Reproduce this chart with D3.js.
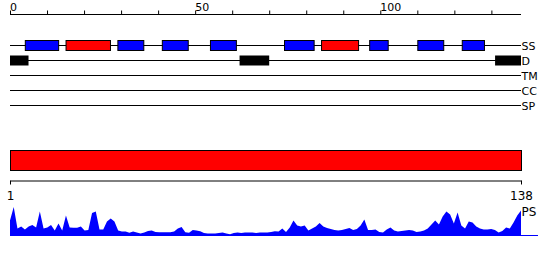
<!DOCTYPE html>
<html>
<head>
<meta charset="utf-8">
<script src="https://cdn.jsdelivr.net/npm/d3@7"></script>
<style>
body { margin: 0; background: #fff; }
svg { display: block; font-family: "DejaVu Sans", sans-serif; }
</style>
</head>
<body>
<svg class="main" width="550" height="260"></svg>
<script>
var seqLength = 138,
    tracks = ["SS", "D", "TM", "CC", "SP"],
    topTicks = [0, 10, 20, 30, 40, 50, 60, 70, 80, 90, 100, 110, 120, 130],
    topLabels = [0, 50, 100],
    bottomTicks = [1, 138];

// secondary structure: [start, end, type]
var ssSegments = [
    [4, 13, "E"], [15, 27, "H"], [29, 36, "E"], [41, 48, "E"], [54, 61, "E"],
    [74, 82, "E"], [84, 94, "H"], [97, 102, "E"], [110, 117, "E"], [122, 128, "E"]
];
var disorder = [[0, 5], [62, 70], [131, 138]];
var domains = [[1, 138]];

var psValues = [
    15, 28.6, 7, 9, 6, 9, 10.5, 8, 24, 7,
    8, 10.5, 5, 12, 5, 20, 8, 7.7, 7.7, 9,
    5, 5.5, 22.5, 24, 6, 6, 14, 17, 14, 5,
    4, 4, 2.7, 4, 3, 2, 3, 4.5, 5, 3.5,
    3.3, 3.3, 3.3, 3.3, 4, 7, 8.5, 3.3, 2.7, 5.5,
    5, 4.3, 2.5, 2, 2, 2, 2.5, 3, 2, 1.3,
    2.5, 3, 2.5, 3, 3, 3, 2.5, 3, 3, 3,
    3.5, 4.3, 4, 7, 3.5, 8, 15, 10, 9, 10,
    5, 7, 9, 12.5, 9, 7.5, 6.5, 5.5, 5, 5.5,
    6.5, 7.5, 5.5, 6.5, 10, 16, 5.5, 5.5, 6, 3.5,
    3, 6, 8, 5, 4, 4.5, 5, 5.5, 5, 3.5,
    4, 5, 7, 11, 15, 11, 19, 24, 21, 12,
    23, 10, 7, 14, 13, 9, 7, 6, 6, 6.5,
    5.5, 3, 4.5, 8, 7, 13, 20, 25
];

var canvas = { left: 10, right: 521 },
    ssColor = { E: "#0000ff", H: "#ff0000" },
    main = d3.select(".main");

var x = d3.scaleLinear().domain([0, seqLength]).range([canvas.left, canvas.right]),
    xRes = d3.scaleLinear().domain([1, seqLength]).range([canvas.left, canvas.right]),
    trackY = d3.scalePoint().domain(tracks).range([45, 105]),
    yPs = d3.scaleLinear().domain([0, 30]).range([235.5, 205.5]);

// top ruler
var topAxis = main.append("g")
    .attr("transform", "translate(0, 14.5)")
    .call(d3.axisTop(x).tickValues(topTicks).tickSize(4).tickSizeOuter(0).tickFormat(""));
topAxis.select(".domain").attr("d", "M" + canvas.left + ",0H" + canvas.right);
topAxis.selectAll(".tick text").remove();
main.selectAll(".top-label")
    .data(topLabels).enter()
    .append("text")
    .attr("x", function(d) { return x(d); })
    .attr("y", 11)
    .attr("font-size", 11)
    .text(function(d) { return d; });

// feature tracks
main.selectAll(".track")
    .data(tracks).enter()
    .append("line")
    .attr("x1", canvas.left)
    .attr("x2", canvas.right)
    .attr("y1", function(d) { return trackY(d) + 0.5; })
    .attr("y2", function(d) { return trackY(d) + 0.5; })
    .attr("stroke", "#000");
main.selectAll(".track-label")
    .data(tracks).enter()
    .append("text")
    .attr("x", canvas.right + 0.5)
    .attr("y", function(d) { return trackY(d) + 4.5; })
    .attr("font-size", 11)
    .text(function(d) { return d; });

main.selectAll(".ss")
    .data(ssSegments).enter()
    .append("rect")
    .attr("x", function(d) { return x(d[0]) + 0.5; })
    .attr("y", trackY("SS") - 4.5)
    .attr("width", function(d) { return x(d[1]) - x(d[0]); })
    .attr("height", 10)
    .attr("fill", function(d) { return ssColor[d[2]]; })
    .attr("stroke", "#000");

main.selectAll(".dis")
    .data(disorder).enter()
    .append("rect")
    .attr("x", function(d) { return x(d[0]); })
    .attr("y", trackY("D") - 4.5)
    .attr("width", function(d) { return x(d[1]) - x(d[0]); })
    .attr("height", 10)
    .attr("fill", "#000");

// domain bar
main.selectAll(".domain-bar")
    .data(domains).enter()
    .append("rect")
    .attr("x", function(d) { return xRes(d[0]) + 0.5; })
    .attr("y", 150.5)
    .attr("width", function(d) { return xRes(d[1]) - xRes(d[0]); })
    .attr("height", 20)
    .attr("fill", "#ff0000")
    .attr("stroke", "#000");

// residue ruler
var bottomAxis = main.append("g")
    .attr("transform", "translate(0, 180.5)")
    .call(d3.axisBottom(xRes).tickValues(bottomTicks).tickSize(4).tickSizeOuter(0));
bottomAxis.selectAll(".tick text")
    .attr("font-size", 12)
    .attr("font-family", "DejaVu Sans")
    .attr("y", 7)
    .attr("dy", "1em");

// PS profile
var area = d3.area()
    .x(function(d, i) { return xRes(i + 1); })
    .y0(yPs(0))
    .y1(function(d) { return yPs(d); });
main.append("path")
    .datum(psValues)
    .attr("d", area)
    .attr("fill", "#0000ff");
main.append("line")
    .attr("x1", canvas.left)
    .attr("x2", 538)
    .attr("y1", yPs(0))
    .attr("y2", yPs(0))
    .attr("stroke", "#0000ff");
main.append("text")
    .attr("x", canvas.right + 0.5)
    .attr("y", 216)
    .attr("font-size", 12)
    .text("PS");
</script>
</body>
</html>
